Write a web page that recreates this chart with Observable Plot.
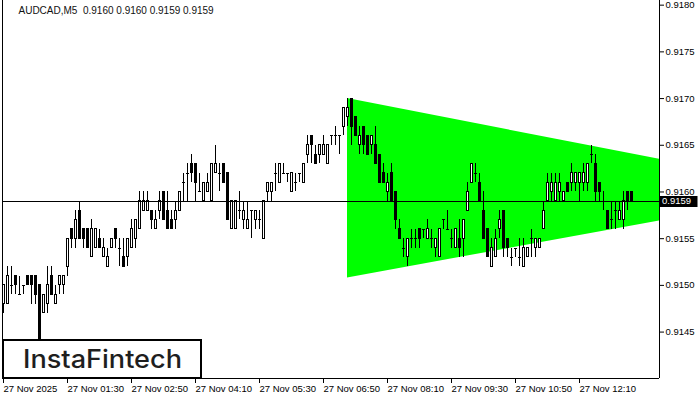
<!DOCTYPE html>
<html>
<head>
<meta charset="utf-8">
<script src="https://cdn.jsdelivr.net/npm/d3@7"></script>
<script src="https://cdn.jsdelivr.net/npm/@observablehq/plot@0.6"></script>
<style>
  html, body { margin: 0; padding: 0; background: #fff; }
</style>
</head>
<body>
<script>
// ---- data (AUDCAD M5, 27 Nov 2025, bars from 00:10) ----
const candleOpen = [
 0.9148,0.9148,0.9150,0.9151,0.9149,0.9150,0.9151,0.9151,0.9151,0.9150,
 0.9147,0.9148,0.9151,0.9148,0.9150,0.9150,0.9152,0.9156,0.9155,0.9158,
 0.9156,0.9156,0.9153,0.9154,0.9155,0.9153,0.9152,0.9154,0.9156,0.9154,
 0.9153,0.9153,0.9154,0.9155,0.9156,0.9158,0.9158,0.9158,0.9156,0.9158,
 0.9160,0.9158,0.9157,0.9157,0.9158,0.9161,0.9162,0.9163,0.9163,0.9160,
 0.9159,0.9160,0.9159,0.9162,0.9162,0.9163,0.9162,0.9156,0.9156,0.9158,
 0.9157,0.9156,0.9158,0.9157,0.9157,0.9155,0.9160,0.9160,0.9162,0.9161,
 0.9162,0.9162,0.9160,0.9161,0.9162,0.9161,0.9164,0.9166,0.9164,0.9164,
 0.9164,0.9163,0.9166,0.9166,0.9166,0.9167,0.9168,0.9170,0.9168,0.9165,
 0.9167,0.9166,0.9165,0.9165,0.9164,0.9162,0.9160,0.9162,0.9160,0.9156,
 0.9154,0.9153,0.9155,0.9155,0.9156,0.9156,0.9155,0.9155,0.9154,0.9153,
 0.9157,0.9156,0.9155,0.9154,0.9155,0.9155,0.9158,0.9161,0.9162,0.9161,
 0.9158,0.9156,0.9152,0.9153,0.9156,0.9158,0.9155,0.9153,0.9154,0.9153,
 0.9152,0.9153,0.9155,0.9154,0.9154,0.9156,0.9159,0.9160,0.9159,0.9160,
 0.9159,0.9161,0.9161,0.9161,0.9161,0.9161,0.9161,0.9164,0.9163,0.9161,
 0.9159,0.9158,0.9157,0.9158,0.9157,0.9157,0.9160,0.9160
];
const candleHigh = [
 0.9150,0.9152,0.9152,0.9151,0.9151,0.9150,0.9151,0.9151,0.9151,0.9150,
 0.9149,0.9152,0.9152,0.9150,0.9151,0.9151,0.9155,0.9156,0.9158,0.9159,
 0.9156,0.9156,0.9157,0.9156,0.9156,0.9155,0.9154,0.9155,0.9156,0.9155,
 0.9155,0.9155,0.9157,0.9157,0.9160,0.9160,0.9160,0.9158,0.9158,0.9160,
 0.9160,0.9160,0.9158,0.9159,0.9160,0.9162,0.9163,0.9164,0.9163,0.9162,
 0.9161,0.9162,0.9163,0.9165,0.9163,0.9163,0.9162,0.9159,0.9159,0.9160,
 0.9159,0.9159,0.9158,0.9158,0.9158,0.9159,0.9161,0.9161,0.9163,0.9163,
 0.9163,0.9162,0.9162,0.9162,0.9162,0.9163,0.9166,0.9166,0.9165,0.9165,
 0.9166,0.9165,0.9166,0.9167,0.9166,0.9169,0.9170,0.9170,0.9168,0.9167,
 0.9167,0.9166,0.9166,0.9167,0.9164,0.9163,0.9162,0.9163,0.9160,0.9157,
 0.9155,0.9155,0.9156,0.9156,0.9156,0.9156,0.9157,0.9156,0.9155,0.9156,
 0.9157,0.9158,0.9156,0.9156,0.9157,0.9157,0.9161,0.9163,0.9163,0.9162,
 0.9160,0.9156,0.9155,0.9156,0.9158,0.9158,0.9155,0.9154,0.9154,0.9155,
 0.9155,0.9154,0.9156,0.9155,0.9155,0.9159,0.9162,0.9162,0.9162,0.9162,
 0.9160,0.9161,0.9163,0.9162,0.9162,0.9163,0.9163,0.9165,0.9164,0.9161,
 0.9160,0.9158,0.9159,0.9159,0.9159,0.9160,0.9160,0.9160
];
const candleLow = [
 0.9147,0.9148,0.9149,0.9149,0.9149,0.9149,0.9150,0.9148,0.9148,0.9143,
 0.9147,0.9147,0.9149,0.9148,0.9149,0.9149,0.9151,0.9154,0.9154,0.9155,
 0.9154,0.9154,0.9153,0.9154,0.9154,0.9153,0.9152,0.9154,0.9154,0.9152,
 0.9152,0.9152,0.9154,0.9154,0.9156,0.9158,0.9158,0.9156,0.9156,0.9157,
 0.9157,0.9156,0.9156,0.9156,0.9158,0.9159,0.9159,0.9161,0.9159,0.9160,
 0.9159,0.9160,0.9159,0.9162,0.9160,0.9161,0.9157,0.9156,0.9156,0.9157,
 0.9156,0.9156,0.9155,0.9156,0.9156,0.9155,0.9159,0.9159,0.9160,0.9161,
 0.9162,0.9161,0.9160,0.9160,0.9161,0.9161,0.9163,0.9163,0.9163,0.9163,
 0.9164,0.9163,0.9165,0.9165,0.9164,0.9166,0.9167,0.9165,0.9166,0.9164,
 0.9164,0.9164,0.9164,0.9163,0.9161,0.9161,0.9159,0.9159,0.9156,0.9155,
 0.9153,0.9152,0.9154,0.9154,0.9154,0.9155,0.9155,0.9154,0.9153,0.9153,
 0.9156,0.9156,0.9154,0.9154,0.9153,0.9153,0.9158,0.9161,0.9161,0.9159,
 0.9155,0.9153,0.9152,0.9153,0.9155,0.9153,0.9153,0.9152,0.9153,0.9152,
 0.9152,0.9153,0.9153,0.9153,0.9154,0.9156,0.9159,0.9159,0.9159,0.9159,
 0.9159,0.9160,0.9160,0.9160,0.9159,0.9160,0.9160,0.9163,0.9159,0.9159,
 0.9158,0.9156,0.9156,0.9156,0.9157,0.9156,0.9158,0.9159
];
const candleClose = [
 0.9150,0.9151,0.9150,0.9150,0.9149,0.9150,0.9150,0.9150,0.9149,0.9144,
 0.9149,0.9150,0.9149,0.9149,0.9151,0.9151,0.9155,0.9155,0.9157,0.9155,
 0.9155,0.9154,0.9156,0.9156,0.9154,0.9154,0.9153,0.9155,0.9155,0.9154,
 0.9152,0.9155,0.9156,0.9157,0.9159,0.9159,0.9159,0.9157,0.9157,0.9159,
 0.9157,0.9156,0.9156,0.9158,0.9160,0.9161,0.9162,0.9162,0.9161,0.9160,
 0.9161,0.9161,0.9163,0.9163,0.9162,0.9161,0.9157,0.9159,0.9159,0.9158,
 0.9158,0.9157,0.9158,0.9158,0.9157,0.9159,0.9161,0.9161,0.9162,0.9163,
 0.9162,0.9162,0.9162,0.9161,0.9162,0.9163,0.9165,0.9165,0.9163,0.9165,
 0.9165,0.9165,0.9166,0.9166,0.9166,0.9169,0.9169,0.9167,0.9166,0.9166,
 0.9165,0.9164,0.9166,0.9163,0.9161,0.9161,0.9161,0.9159,0.9157,0.9155,
 0.9154,0.9155,0.9155,0.9155,0.9155,0.9156,0.9156,0.9155,0.9155,0.9156,
 0.9157,0.9156,0.9155,0.9156,0.9154,0.9157,0.9160,0.9163,0.9162,0.9159,
 0.9155,0.9153,0.9154,0.9155,0.9157,0.9154,0.9154,0.9153,0.9154,0.9153,
 0.9154,0.9154,0.9155,0.9155,0.9155,0.9158,0.9161,0.9161,0.9161,0.9161,
 0.9160,0.9160,0.9162,0.9162,0.9162,0.9162,0.9163,0.9164,0.9160,0.9160,
 0.9159,0.9156,0.9157,0.9158,0.9158,0.9159,0.9159,0.9159
];

// triangle pattern (bar index at its left and right ends, upper/lower prices)
const patternIdx = [86, 164];
const patternUpper = [0.91700, 0.91635];
const patternLower = [0.91508, 0.91569];

// axis ticks
const timeTickIdx = [0, 16, 32, 48, 64, 80, 96, 112, 128, 144];
const timeTickLabels = ["27 Nov 2025", "27 Nov 01:30", "27 Nov 02:50", "27 Nov 04:10", "27 Nov 05:30",
  "27 Nov 06:50", "27 Nov 08:10", "27 Nov 09:30", "27 Nov 10:50", "27 Nov 12:10"];
const priceTicks = [0.9145, 0.9150, 0.9155, 0.9160, 0.9165, 0.9170, 0.9175, 0.9180];
const titleText = "AUDCAD,M5  0.9160 0.9160 0.9159 0.9159";
const logoText = "InstaFintech";

// ---- build tables ----
const candles = candleOpen.map((o, i) => ({
  i, open: o, high: candleHigh[i], low: candleLow[i], close: candleClose[i]
}));
const upBars = candles.filter(d => d.close > d.open);
const downBars = candles.filter(d => d.close < d.open);
const dojiBars = candles.filter(d => d.close === d.open);
const pattern = patternIdx.map((i, k) => ({i, upper: patternUpper[k], lower: patternLower[k]}));
const lastClose = candleClose[candleClose.length - 1];

const xDomain = [-0.25, 164];
const yDomain = [0.914003, 0.91805];
const crisp = {shapeRendering: "crispEdges"};

const chart = Plot.plot({
  width: 700,
  height: 400,
  marginLeft: 2,
  marginRight: 41,
  marginTop: 0,
  marginBottom: 22,
  x: {domain: xDomain, label: null},
  y: {domain: yDomain, label: null},
  style: {fontFamily: "'Liberation Sans', Arial, sans-serif", fontSize: "9.5px", color: "black", background: "white"},
  marks: [
    Plot.areaY(pattern, {x: "i", y1: "lower", y2: "upper", fill: "#00ff00"}),
    Plot.ruleX(candles, {x: "i", y1: "low", y2: "high", stroke: "black", ...crisp}),
    Plot.rect(upBars, {x1: d => d.i - 0.25, x2: d => d.i + 0.25, y1: "open", y2: "close", fill: "white", stroke: "black", ...crisp}),
    Plot.rect(downBars, {x1: d => d.i - 0.25, x2: d => d.i + 0.25, y1: "open", y2: "close", fill: "black", stroke: "black", ...crisp}),
    Plot.ruleY(dojiBars, {y: "open", x1: d => d.i - 0.375, x2: d => d.i + 0.375, stroke: "black", ...crisp}),
    Plot.ruleY([lastClose], {stroke: "black", ...crisp}),
    // chart frame (left, right, bottom)
    Plot.ruleX(xDomain, {stroke: "black", ...crisp}),
    Plot.ruleY([yDomain[0]], {stroke: "black", ...crisp}),
    Plot.axisX(timeTickIdx, {
      tickFormat: d => timeTickLabels[timeTickIdx.indexOf(d)],
      textAnchor: "start", tickSize: 5, tickPadding: 2, fontSize: 9.5
    }),
    Plot.axisY(priceTicks, {
      anchor: "right", tickFormat: d3.format(".4f"), tickSize: 4, tickPadding: 2, fontSize: 9.5
    }),
    Plot.text([titleText], {frameAnchor: "top-left", dx: 16, dy: 6, textAnchor: "start", lineAnchor: "top", fontSize: 10, fill: "#111"})
  ]
});

document.body.appendChild(chart);

const svg = d3.select(chart);
// preserve the double space in the title
svg.selectAll("text").filter(function () { return this.textContent === titleText; })
  .attr("xml:space", "preserve").style("white-space", "pre");

// current price label on the right axis
const yPix = chart.scale("y").apply(lastClose);
const priceTag = svg.append("g").attr("text-anchor", "start");
priceTag.append("rect")
  .attr("x", 659.5).attr("y", Math.round(yPix) - 5).attr("width", 38).attr("height", 11)
  .attr("fill", "black");
priceTag.append("text")
  .attr("x", 662).attr("y", Math.round(yPix) + 0.5)
  .attr("text-anchor", "start")
  .attr("dominant-baseline", "middle")
  .attr("fill", "white")
  .attr("font-size", "9.5px")
  .text(d3.format(".4f")(lastClose));

// logo box
const logo = svg.append("g").attr("text-anchor", "start");
logo.append("rect")
  .attr("x", 3).attr("y", 340).attr("width", 198).attr("height", 38)
  .attr("fill", "white").attr("stroke", "black").attr("stroke-width", 2);
logo.append("text")
  .attr("x", 23).attr("y", 368)
  .attr("text-anchor", "start")
  .attr("font-family", "Inter, 'Open Sans', sans-serif")
  .attr("font-weight", 500)
  .attr("font-size", "25px")
  .attr("fill", "#1e1e1e")
  .attr("textLength", 159)
  .attr("lengthAdjust", "spacingAndGlyphs")
  .text(logoText);
</script>
</body>
</html>
